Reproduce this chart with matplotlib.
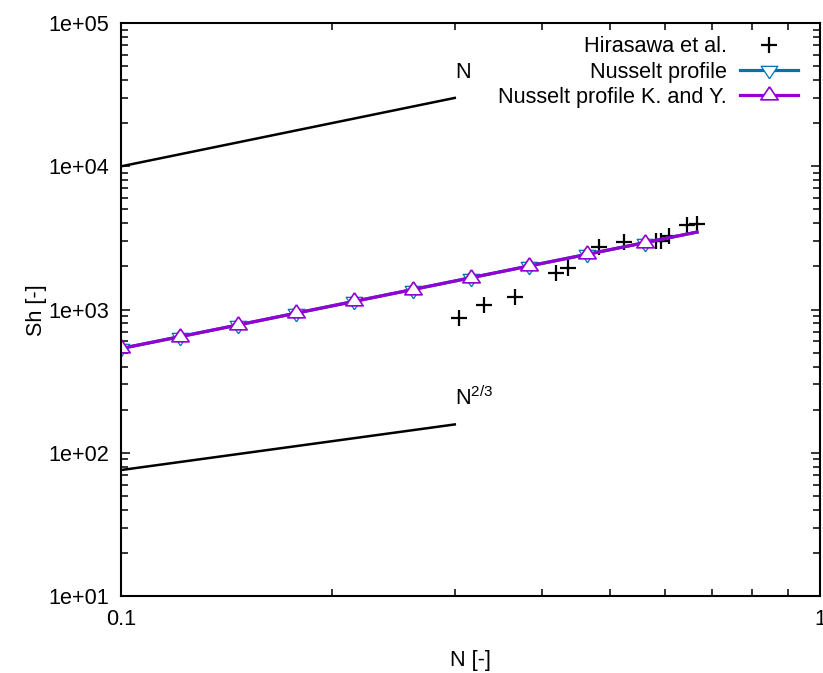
import matplotlib
matplotlib.use("Agg")
import matplotlib.pyplot as plt
from matplotlib.ticker import FuncFormatter, LogLocator, FixedLocator, FixedFormatter, NullFormatter

plt.rcParams['font.family'] = ['Liberation Sans', 'DejaVu Sans']
plt.rcParams['mathtext.fontset'] = 'custom'
plt.rcParams['mathtext.rm'] = 'Liberation Sans'
plt.rcParams['font.size'] = 15.6

# data
hirasawa_n = [0.3045, 0.3306, 0.3661, 0.4195, 0.4362, 0.4828, 0.5240, 0.5815, 0.5911, 0.6075, 0.6457, 0.6668]
hirasawa_sh = [869, 1079, 1219, 1803, 1954, 2722, 2950, 2998, 3030, 3284, 3888, 3937]

profile_n = [0.1, 0.1212, 0.1468, 0.1778, 0.2154, 0.2610, 0.3162, 0.3831, 0.4642, 0.5623, 0.6667]
nusselt_sh = [535, 646, 780, 943, 1140, 1378, 1665, 2012, 2429, 2936, 3472]
nusselt_ky_sh = [535, 646, 780, 943, 1140, 1378, 1665, 2012, 2429, 2936, 3472]

guide_n = [0.1, 0.3]
guide_lin = [1e4, 3e4]
guide_23 = [75.8, 157.7]

up_tri = [(0, 1), (-1, -0.5), (1, -0.5), (0, 1)]
down_tri = [(0, -1), (-1, 0.5), (1, 0.5), (0, -1)]

fig = plt.figure(figsize=(8.23, 6.73), dpi=100)
ax = fig.add_axes([0.1476, 0.1144, 0.8488, 0.8514])

ax.plot(guide_n, guide_lin, color='black', lw=1.8)
ax.plot(guide_n, guide_23, color='black', lw=1.8)
ax.text(0.3, 4.1e4, 'N', ha='left', va='baseline')
ax.text(0.3, 216, r'$\mathregular{N^{2/3}}$', ha='left', va='baseline')

ax.plot(hirasawa_n, hirasawa_sh, ls='none', marker='+', ms=12, mew=1.6,
        color='black', label='Hirasawa et al.')
ax.plot(profile_n, nusselt_sh, color='#0072b2', lw=2.3, marker=down_tri, ms=12,
        mew=0.9, mfc='white', markevery=list(range(10)), label='Nusselt profile')
ax.plot(profile_n, nusselt_ky_sh, color='#9400d3', lw=2.3, marker=up_tri, ms=12.5,
        mew=1.2, mfc='white', markevery=list(range(10)), label='Nusselt profile K. and Y.')

ax.set_xscale('log')
ax.set_yscale('log')
ax.set_xlim(0.1, 1)
ax.set_ylim(10, 1e5)

ax.xaxis.set_major_locator(FixedLocator([0.1, 1]))
ax.xaxis.set_major_formatter(FixedFormatter(['0.1', '1']))
ax.xaxis.set_minor_locator(LogLocator(base=10, subs=range(2, 10)))
ax.xaxis.set_minor_formatter(NullFormatter())
ax.yaxis.set_major_locator(LogLocator(base=10))
ax.yaxis.set_major_formatter(FuncFormatter(lambda v, p: f"{v:.0e}"))
ax.yaxis.set_minor_locator(LogLocator(base=10, subs=range(2, 10)))
ax.yaxis.set_minor_formatter(NullFormatter())

ax.tick_params(which='both', direction='in', top=True, right=True, width=1.1)
ax.tick_params(which='major', length=6.5)
ax.tick_params(which='minor', length=5)
ax.tick_params(axis='x', pad=9)
ax.tick_params(axis='y', pad=9)
for s in ax.spines.values():
    s.set_linewidth(1.5)

ax.set_xlabel('N [-]')
ax.set_ylabel('Sh [-]')
ax.xaxis.set_label_coords(0.499, -0.112)
ax.xaxis.label.set_va('center')
ax.yaxis.set_label_coords(-0.122, 0.499)
ax.yaxis.label.set_va('center')

ax.legend(loc='upper right', bbox_to_anchor=(0.9685, 0.977), frameon=False,
          markerfirst=False, borderpad=0, borderaxespad=0, handlelength=2.7,
          handletextpad=0.6, labelspacing=0.2)

plt.savefig("out.png", dpi=100)
